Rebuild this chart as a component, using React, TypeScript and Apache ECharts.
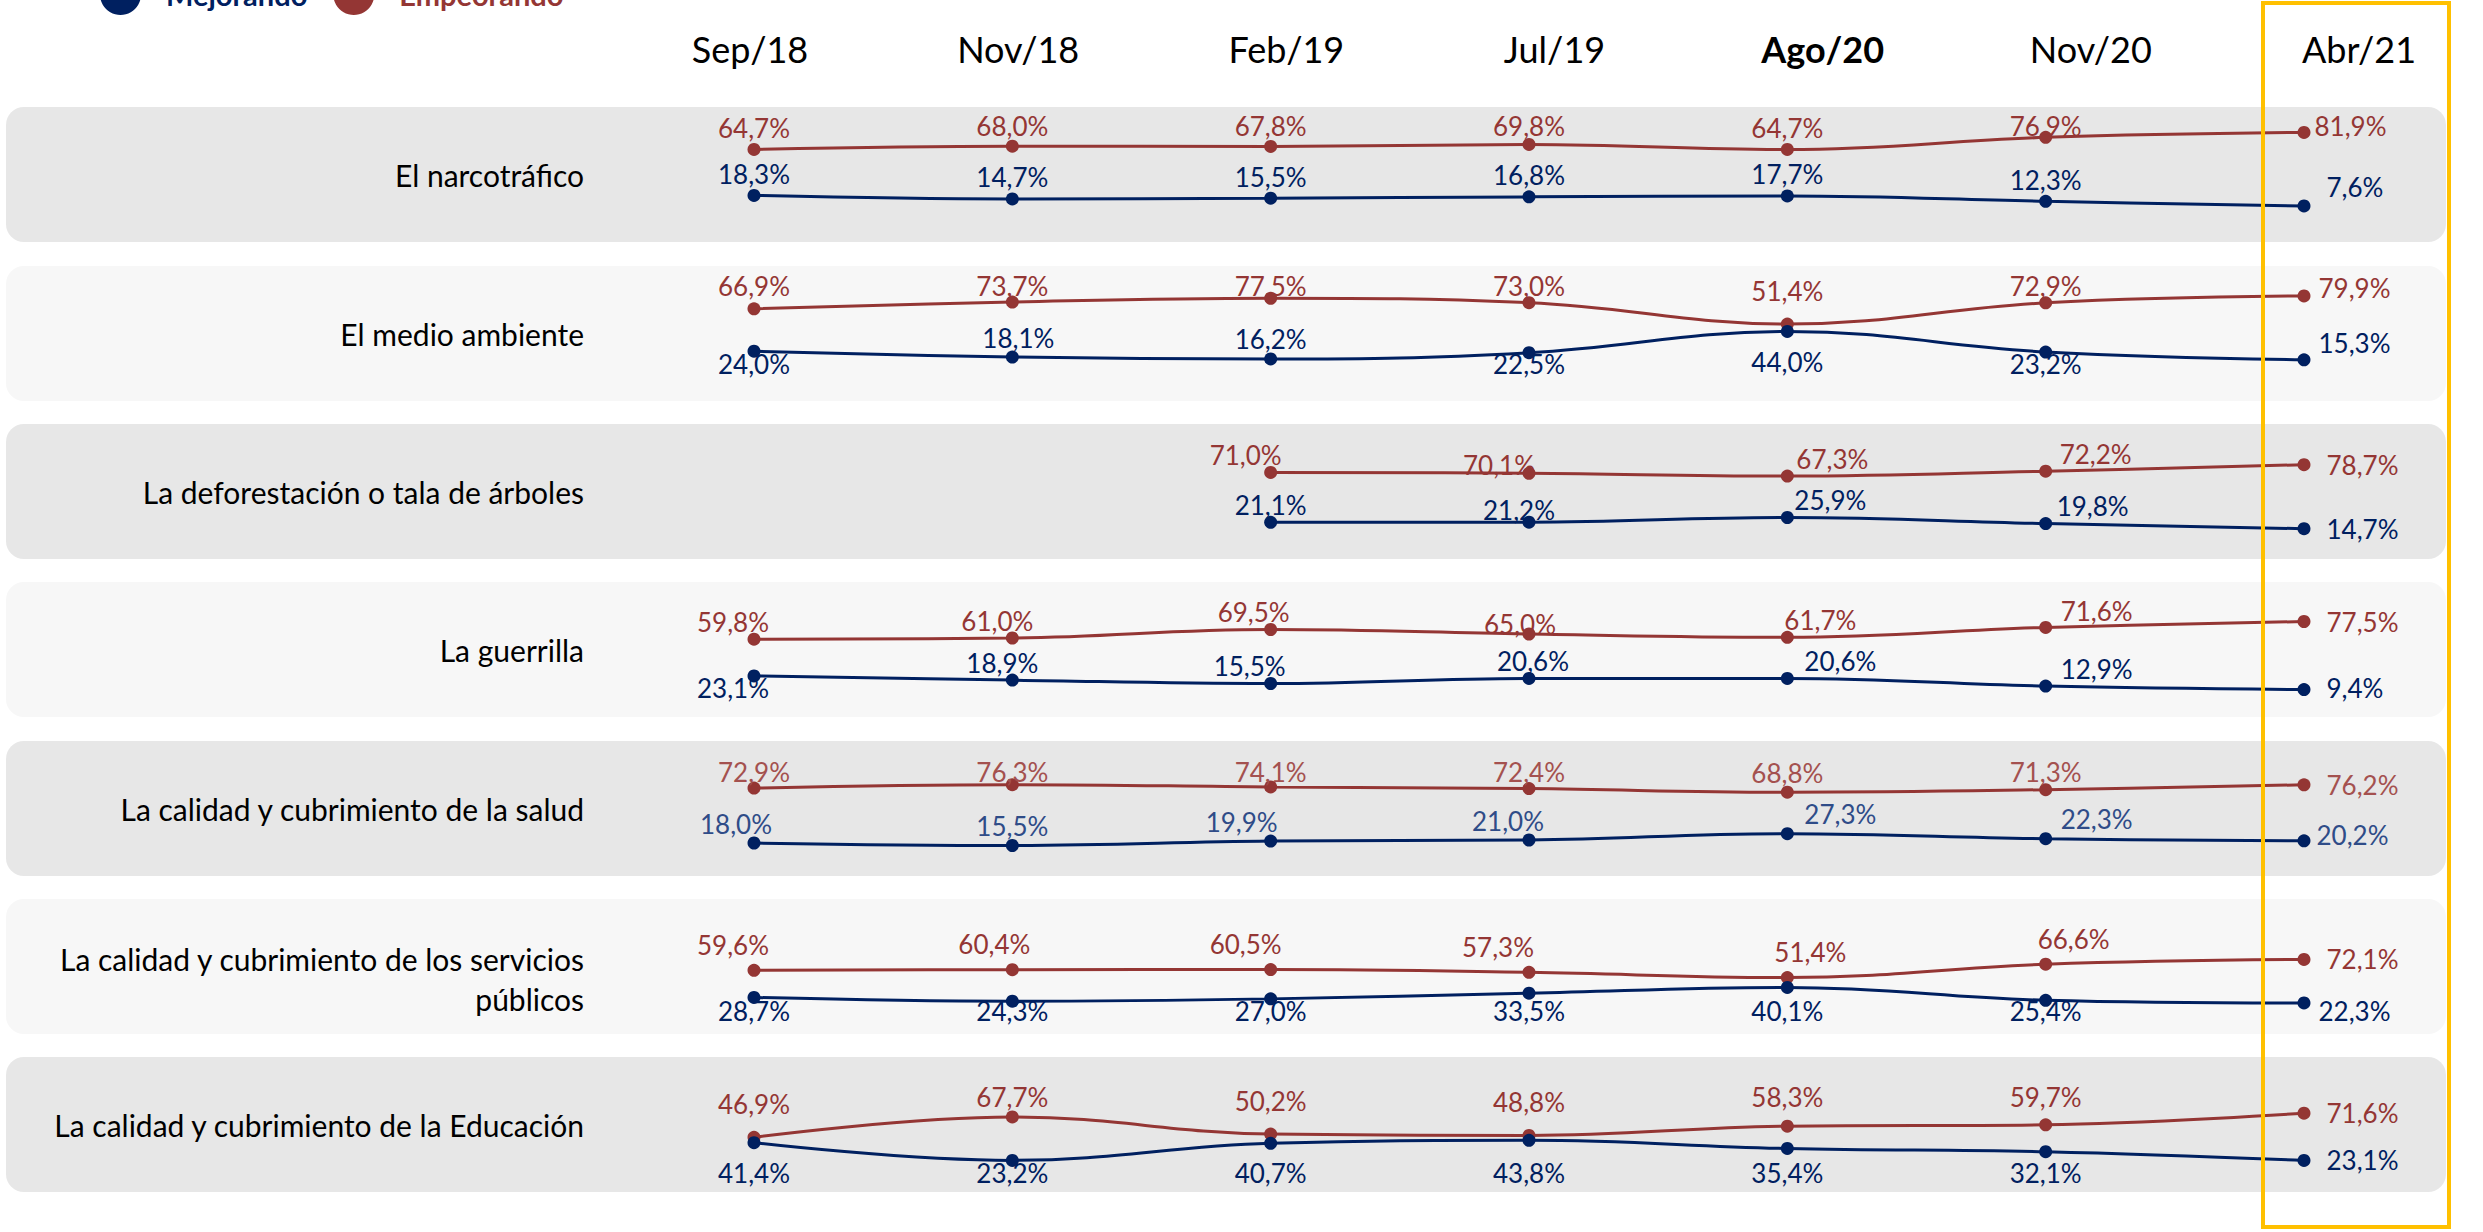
import React, { useEffect, useRef } from "react";
import * as echarts from "echarts";

// ---------- DATA ----------
const periods = ["Sep/18", "Nov/18", "Feb/19", "Jul/19", "Ago/20", "Nov/20", "Abr/21"];
const highlightedPeriod = "Ago/20";
const topics = [
  "El narcotráfico",
  "El medio ambiente",
  "La deforestación o tala de árboles",
  "La guerrilla",
  "La calidad y cubrimiento de la salud",
  "La calidad y cubrimiento de los servicios\npúblicos",
  "La calidad y cubrimiento de la Educación",
];
const seriesNames = ["Mejorando", "Empeorando"];

const mejNarco = [18.3, 14.7, 15.5, 16.8, 17.7, 12.3, 7.6];
const mejMedio = [24.0, 18.1, 16.2, 22.5, 44.0, 23.2, 15.3];
const mejDefor = [null, null, 21.1, 21.2, 25.9, 19.8, 14.7];
const mejGuerr = [23.1, 18.9, 15.5, 20.6, 20.6, 12.9, 9.4];
const mejSalud = [18.0, 15.5, 19.9, 21.0, 27.3, 22.3, 20.2];
const mejServ = [28.7, 24.3, 27.0, 33.5, 40.1, 25.4, 22.3];
const mejEduc = [41.4, 23.2, 40.7, 43.8, 35.4, 32.1, 23.1];

const empNarco = [64.7, 68.0, 67.8, 69.8, 64.7, 76.9, 81.9];
const empMedio = [66.9, 73.7, 77.5, 73.0, 51.4, 72.9, 79.9];
const empDefor = [null, null, 71.0, 70.1, 67.3, 72.2, 78.7];
const empGuerr = [59.8, 61.0, 69.5, 65.0, 61.7, 71.6, 77.5];
const empSalud = [72.9, 76.3, 74.1, 72.4, 68.8, 71.3, 76.2];
const empServ = [59.6, 60.4, 60.5, 57.3, 51.4, 66.6, 72.1];
const empEduc = [46.9, 67.7, 50.2, 48.8, 58.3, 59.7, 71.6];

const mejorando = [mejNarco, mejMedio, mejDefor, mejGuerr, mejSalud, mejServ, mejEduc];
const empeorando = [empNarco, empMedio, empDefor, empGuerr, empSalud, empServ, empEduc];

// ---------- LAYOUT / STYLE ----------
const W = 2483;
const H = 1232;
const RED = "#943634";
const BLUE = "#002060";
const FONT = "Lato";

const bandTops = [107, 266, 424, 582, 741, 899, 1057];
const bandHeight = 135;
const plotTops = [114.5, 276, 443.4, 599, 761, 935, 1085.5];
const plotHeights = [99, 99, 100, 100, 100, 87.5, 97.5];
const plotLeft = 754;
const plotRightEdge = 2304;

// label placement: t = above, b = below, r = right
const redPlacement = ["ttttttr", "ttttttr", "ttttttr", "ttttttr", "ttttttr", "ttttttr", "ttttttr"];
const bluePlacement = ["ttttttr", "bttbbbr", "ttttttr", "btttttr", "ttttttr", "bbbbbbr", "bbbbbbr"];
const redDistance = [2, 14, -2, -2, 0, 6, 14];
const blueDistance = [2, 0, -2, -2, 0, 14, 14];
const clampTop = [113, 273, 430, 598, 759, 925, 1084];
const clampBottom = [240, 377, 555, 701, 873, 1024, 1186];
// [row, series(0 = Mejorando, 1 = Empeorando), point, dx, dy]
const labelNudges: number[][] = [
  [0, 1, 6, -12, -6], [0, 0, 6, 0, -19],
  [1, 1, 6, -8, -8], [1, 0, 6, -8, -17], [1, 0, 4, 0, 11], [1, 0, 1, 6, 0],
  [2, 1, 2, -25, 0], [2, 1, 3, -30, 9], [2, 1, 4, 45, 0], [2, 1, 5, 50, 0],
  [2, 0, 3, -10, 5], [2, 0, 4, 43, 0], [2, 0, 5, 47, 0],
  [3, 1, 0, -21, 0], [3, 1, 1, -15, 0], [3, 1, 2, -17, 0], [3, 1, 3, -9, 7], [3, 1, 4, 33, 0], [3, 1, 5, 51, 0],
  [3, 0, 0, -21, 0], [3, 0, 1, -10, 0], [3, 0, 2, -21, 0], [3, 0, 3, 4, 0], [3, 0, 4, 53, 0], [3, 0, 5, 51, 0],
  [4, 0, 0, -18, 0], [4, 0, 2, -29, 0], [4, 0, 3, -21, 0], [4, 0, 4, 53, 0], [4, 0, 5, 51, 0], [4, 0, 6, -10, -6],
  [5, 1, 0, -21, 0], [5, 1, 1, -18, 0], [5, 1, 2, -25, 0], [5, 1, 3, -31, 0], [5, 1, 4, 23, 0], [5, 1, 5, 28, 0],
  [5, 0, 6, -8, 8],
];

function nudgeFor(row: number, s: number, i: number): [number, number] {
  for (const n of labelNudges) {
    if (n[0] === row && n[1] === s && n[2] === i) return [n[3], n[4]];
  }
  return [0, 0];
}

function fmt(v: number) {
  return v.toFixed(1).replace(".", ",") + "%";
}

function buildOption() {
  const grid: any[] = [];
  const xAxis: any[] = [];
  const yAxis: any[] = [];
  const series: any[] = [];
  const seriesRow: number[] = [];
  const seriesKind: number[] = [];

  for (let r = 0; r < topics.length; r++) {
    grid.push({ left: plotLeft, right: W - plotRightEdge, top: plotTops[r], height: plotHeights[r] });
    xAxis.push({ gridIndex: r, type: "category", data: periods, boundaryGap: false, show: false });
    yAxis.push({ gridIndex: r, type: "value", min: 0, max: 100, show: false });

    const pairs: [number, (number | null)[], string, number, string][] = [
      [1, empeorando[r], redPlacement[r], redDistance[r], RED],
      [0, mejorando[r], bluePlacement[r], blueDistance[r], BLUE],
    ];
    for (const [s, values, placement, dist, color] of pairs) {
      const lighter = r === 4;
      const labelColor = lighter ? (s === 1 ? "#A4514F" : "#2F4C88") : color;
      const data = values.map((v, i) => {
        if (v == null) return "-";
        const p = placement[i];
        const pos = p === "t" ? "top" : p === "b" ? "bottom" : "right";
        return {
          value: v,
          label: { position: pos, distance: pos === "right" ? 16 : dist },
        };
      });
      seriesRow.push(r);
      seriesKind.push(s);
      series.push({
        type: "line",
        name: seriesNames[s],
        xAxisIndex: r,
        yAxisIndex: r,
        data,
        smooth: 0.4,
        symbol: "circle",
        symbolSize: 13,
        z: s === 0 ? 4 : 3,
        itemStyle: { color },
        lineStyle: { color, width: 3 },
        label: {
          show: true,
          color: labelColor,
          fontFamily: FONT,
          fontSize: 26,
          formatter: (p: any) => fmt(Number(p.value)),
        },
        labelLayout: (params: any) => {
          const rr = seriesRow[params.seriesIndex];
          const kk = seriesKind[params.seriesIndex];
          const nd = nudgeFor(rr, kk, params.dataIndex);
          const rect = params.labelRect;
          if (!rect) return { dx: nd[0], dy: nd[1] };
          let dy = nd[1];
          const top = rect.y + dy;
          if (top < clampTop[rr]) dy += clampTop[rr] - top;
          else if (top + rect.height > clampBottom[rr]) dy += clampBottom[rr] - top - rect.height;
          return { dx: nd[0], dy };
        },
      });
    }
  }

  // header axis
  const hIdx = topics.length;
  grid.push({ left: 750, right: W - 2359, top: 75, height: 1 });
  xAxis.push({
    gridIndex: hIdx,
    type: "category",
    position: "top",
    boundaryGap: false,
    data: periods.map((p) => (p === highlightedPeriod ? { value: p, textStyle: { fontWeight: "bold" } } : p)),
    axisLine: { show: false },
    axisTick: { show: false },
    splitLine: { show: false },
    axisLabel: { fontSize: 36, color: "#000", fontFamily: FONT, margin: 8 },
  });
  yAxis.push({ gridIndex: hIdx, type: "value", show: false });

  const graphic: any[] = [];
  bandTops.forEach((t, i) => {
    graphic.push({
      type: "rect",
      z: 0,
      silent: true,
      shape: { x: 6, y: t, width: 2440, height: bandHeight, r: 18 },
      style: { fill: i % 2 === 0 ? "#E7E7E7" : "#F7F7F7" },
    });
  });
  topics.forEach((name, i) => {
    const multi = name.includes("\n");
    graphic.push({
      type: "text",
      z: 1,
      silent: true,
      x: 584,
      y: bandTops[i] + bandHeight / 2 + (multi ? 12 : 0),
      style: {
        text: name,
        fill: "#000",
        font: `30px ${FONT}`,
        fontSize: 30,
        fontFamily: FONT,
        align: "right",
        textAlign: "right",
        verticalAlign: "middle",
        textVerticalAlign: "middle",
        lineHeight: 40,
      },
    });
  });
  graphic.push({
    type: "rect",
    z: 100,
    silent: true,
    shape: { x: 2263, y: 3, width: 186, height: 1224 },
    style: { fill: "none", stroke: "#FFC000", lineWidth: 4 },
  });

  return {
    animation: false,
    backgroundColor: "#fff",
    textStyle: { fontFamily: FONT },
    legend: {
      left: 100,
      top: -26,
      padding: 0,
      icon: "circle",
      itemWidth: 41,
      itemHeight: 41,
      itemGap: 26,
      selectedMode: false,
      data: [
        { name: "Mejorando", textStyle: { color: BLUE } },
        { name: "Empeorando", textStyle: { color: RED } },
      ],
      textStyle: { fontSize: 29, fontWeight: "bold", fontFamily: FONT, padding: [0, 0, 0, 20] },
    },
    grid,
    xAxis,
    yAxis,
    series,
    graphic,
  };
}

export default function App() {
  const ref = useRef<HTMLDivElement>(null);
  useEffect(() => {
    if (!ref.current) return;
    const chart = echarts.init(ref.current, undefined, { renderer: "svg", width: W, height: H });
    chart.setOption(buildOption() as any);
    return () => chart.dispose();
  }, []);
  return <div ref={ref} style={{ position: "absolute", left: 0, top: 0, width: W, height: H }} />;
}
